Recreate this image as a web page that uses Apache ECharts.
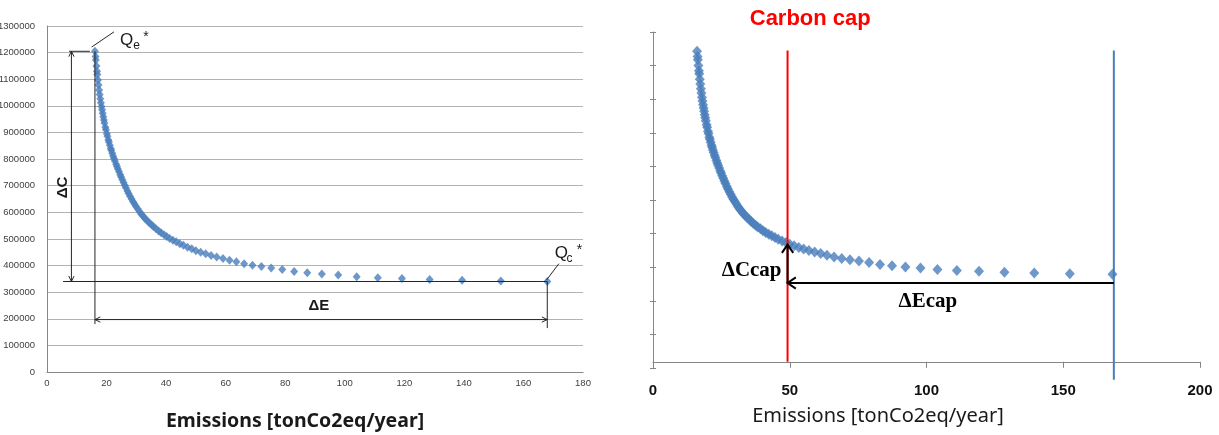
<!DOCTYPE html>
<html>
<head>
<meta charset="utf-8">
<script src="https://cdn.jsdelivr.net/npm/echarts@6/dist/echarts.min.js"></script>
<style>
  html, body { margin: 0; padding: 0; background: #ffffff; }
  #chart { width: 1219px; height: 435px; }
</style>
</head>
<body>
<div id="chart"></div>
<script>
// Abatement frontier: yearly emissions against total cost, one point per configuration
const emissions = [
  16.1, 16.3, 16.4, 16.6, 16.8, 16.9, 17.1, 17.3, 17.5, 17.7,
  17.9, 18.1, 18.3, 18.5, 18.7, 18.9, 19.1, 19.3, 19.6, 19.8,
  20.1, 20.3, 20.6, 20.8, 21.1, 21.4, 21.6, 21.9, 22.2, 22.5,
  22.8, 23.2, 23.5, 23.8, 24.2, 24.6, 24.9, 25.3, 25.7, 26.1,
  26.5, 27.0, 27.4, 27.9, 28.4, 28.9, 29.4, 29.9, 30.5, 31.1,
  31.7, 32.3, 32.9, 33.6, 34.3, 35.1, 35.8, 36.6, 37.5, 38.3,
  39.3, 40.2, 41.2, 42.3, 43.4, 44.6, 45.8, 47.2, 48.6, 50.0,
  51.6, 53.3, 55.1, 57.0, 59.1, 61.3, 63.6, 66.2, 69.0, 72.0,
  75.3, 79.0, 83.0, 87.4, 92.3, 97.8, 104.0, 111.1, 119.2, 128.5,
  139.4, 152.4, 168.0
];
const cost = [
  1205000, 1185000, 1172000, 1150000, 1130000, 1118000, 1097000, 1078000, 1060000, 1043000,
  1027000, 1012000, 998000, 985000, 972000, 959000, 947000, 936000, 920000, 910000,
  895000, 886000, 872000, 864000, 852000, 840000, 833000, 822000, 812000, 802000,
  793000, 781000, 772000, 763000, 752000, 741000, 733000, 722000, 712000, 702000,
  692000, 680000, 671000, 660000, 650000, 640000, 631000, 622000, 612000, 602000,
  593000, 585000, 577000, 569000, 561000, 553000, 546000, 538000, 530000, 523000,
  516000, 509000, 502000, 495000, 489000, 482000, 476000, 469000, 463000, 456000,
  450000, 444000, 438000, 432000, 426000, 420000, 414000, 407000, 401000, 396000,
  391000, 385000, 378000, 373000, 368000, 364000, 358000, 354000, 351000, 348000,
  345000, 342000, 340000
];

// axis ticks
const leftXTicks = [0, 20, 40, 60, 80, 100, 120, 140, 160, 180];
const leftYTicks = [0, 100000, 200000, 300000, 400000, 500000, 600000, 700000,
                    800000, 900000, 1000000, 1100000, 1200000, 1300000];
const rightXTicks = [0, 50, 100, 150, 200];
const carbonCap = 49.2;          // emission cap, tonCo2eq/year
const capCost = 306000;          // level of the ΔEcap arrow

const points = emissions.map((e, i) => [e, cost[i]]);
const firstE = emissions[0], lastE = emissions[emissions.length - 1];
const topC = cost[0], bottomC = cost[cost.length - 1];

const INK = '#1a1a1a';
const BLUE = '#4a7ebb';
const SANS = '"Liberation Sans", Arial, sans-serif';
const SERIF = '"Liberation Serif", "Times New Roman", serif';

// Annotations, all placed in data units of their own chart
const leftNotes = [
  { from: [8.2, topC], to: [8.2, bottomC], heads: ['from', 'to'] },
  { from: [7.4, topC], to: [14.4, topC] },
  { from: [5.4, bottomC], to: [lastE, bottomC] },
  { from: [firstE, topC], to: [firstE, 180000] },
  { from: [firstE, 197000], to: [lastE, 197000], heads: ['from', 'to'] },
  { from: [lastE, bottomC], to: [lastE, 165000] },
  { from: [15.0, 1221000], to: [22.5, 1278000] },
  { from: [167.7, 345000], to: [171.9, 407000] },
  { text: 'ΔC', at: [5.4, 693000], rotate: 90, font: 'bold 15px ' + SANS },
  { text: 'ΔE', at: [91.3, 247000], font: 'bold 15px ' + SANS },
  { text: 'Q', at: [24.5, 1245000], font: '17px ' + SANS, align: 'left' },
  { text: 'e', at: [29.0, 1227000], font: '12px ' + SANS, align: 'left' },
  { text: '*', at: [32.3, 1258000], font: '14px ' + SANS, align: 'left' },
  { text: 'Q', at: [170.5, 446000], font: '17px ' + SANS, align: 'left' },
  { text: 'c', at: [174.5, 426000], font: '12px ' + SANS, align: 'left' },
  { text: '*', at: [177.9, 458000], font: '14px ' + SANS, align: 'left' }
];

const rightNotes = [
  { from: [carbonCap, 0], to: [carbonCap, 1208000], color: '#ff0000', width: 2 },
  { from: [168.5, -70000], to: [168.5, 1208000], color: BLUE, width: 2 },
  { from: [carbonCap, capCost], to: [carbonCap, 455000], heads: ['to'] },
  { from: [carbonCap, capCost], to: [168.5, capCost], heads: ['from'] },
  { text: 'ΔCcap', at: [47.0, 354500], font: 'bold 21px ' + SERIF, align: 'right', color: '#000' },
  { text: 'ΔEcap', at: [100.5, 232800], font: 'bold 21px ' + SERIF, color: '#000' },
  { text: 'Carbon cap', at: [57.5, 1328800], font: 'bold 22px ' + SANS, color: '#ff0000' }
];

// open arrow head: two legs drawn back from the tip
function chevron(tip, tail, size, spread) {
  const dx = tail[0] - tip[0], dy = tail[1] - tip[1];
  const len = Math.hypot(dx, dy) || 1;
  const bx = dx / len, by = dy / len;
  const c = Math.cos(spread), s = Math.sin(spread);
  return [
    [tip[0] + size * (bx * c - by * s), tip[1] + size * (bx * s + by * c)],
    [tip[0], tip[1]],
    [tip[0] + size * (bx * c + by * s), tip[1] + size * (-bx * s + by * c)]
  ];
}

function noteSeries(list, axisIndex, lineColor, lineWidth, headSize, spread) {
  return {
    type: 'custom',
    xAxisIndex: axisIndex,
    yAxisIndex: axisIndex,
    clip: false,
    silent: true,
    z: 5,
    data: list.map(n => n.at || n.from),
    encode: { x: 0, y: 1 },
    renderItem(params, api) {
      const n = list[params.dataIndex];
      if (n.text) {
        const p = api.coord(n.at);
        return {
          type: 'text', x: p[0], y: p[1],
          rotation: n.rotate ? n.rotate * Math.PI / 180 : 0,
          style: {
            text: n.text, font: n.font, fill: n.color || INK,
            align: n.align || 'center', textAlign: n.align || 'center',
            verticalAlign: 'middle', textVerticalAlign: 'middle'
          }
        };
      }
      const a = api.coord(n.from), b = api.coord(n.to);
      const stroke = n.color || lineColor, w = n.width || lineWidth;
      const kids = [{
        type: 'line',
        shape: { x1: a[0], y1: a[1], x2: b[0], y2: b[1] },
        style: { stroke: stroke, lineWidth: w }
      }];
      (n.heads || []).forEach(end => {
        const tip = end === 'from' ? a : b, tail = end === 'from' ? b : a;
        kids.push({
          type: 'polyline',
          shape: { points: chevron(tip, tail, headSize, spread) },
          style: { stroke: stroke, lineWidth: w, fill: null }
        });
      });
      return { type: 'group', children: kids };
    }
  };
}

const chart = echarts.init(document.getElementById('chart'), null, { renderer: 'canvas' });

const hidden = { show: false };
const option = {
  animation: false,
  backgroundColor: '#ffffff',
  grid: [
    { left: 47, top: 26, width: 536, height: 346, containLabel: false, outerBoundsMode: 'none' },
    { left: 653, top: 32, width: 547, height: 336, containLabel: false, outerBoundsMode: 'none' }
  ],
  xAxis: [
    {
      gridIndex: 0, type: 'value',
      min: leftXTicks[0], max: leftXTicks[leftXTicks.length - 1], interval: leftXTicks[1] - leftXTicks[0],
      axisLine: { lineStyle: { color: '#868686', width: 1 } },
      axisTick: hidden, splitLine: hidden,
      axisLabel: { fontSize: 9.5, fontFamily: SANS, color: '#404040', margin: 6 }
    },
    {
      gridIndex: 1, type: 'value',
      min: rightXTicks[0], max: rightXTicks[rightXTicks.length - 1], interval: rightXTicks[1] - rightXTicks[0],
      axisLine: { lineStyle: { color: '#868686', width: 1 } },
      axisTick: { show: true, length: 6, lineStyle: { color: '#868686' } },
      splitLine: hidden,
      axisLabel: { fontSize: 15, fontWeight: 'bold', fontFamily: SANS, color: '#111', margin: 15 }
    }
  ],
  yAxis: [
    {
      gridIndex: 0, type: 'value',
      min: leftYTicks[0], max: leftYTicks[leftYTicks.length - 1], interval: leftYTicks[1] - leftYTicks[0],
      axisLine: { show: true, lineStyle: { color: '#868686', width: 1 } },
      axisTick: hidden,
      splitLine: { show: true, lineStyle: { color: '#b3b3b3', width: 1 } },
      axisLabel: { fontSize: 9.5, fontFamily: SANS, color: '#404040', margin: 12, formatter: v => String(v) }
    },
    {
      gridIndex: 1, type: 'value', min: -24000, max: 1280000,
      axisLine: { show: true, lineStyle: { color: '#868686', width: 1 } },
      axisTick: hidden, axisLabel: hidden, splitLine: hidden
    },
    // tick marks of the unlabelled cost axis, crossing the axis line
    {
      gridIndex: 1, type: 'value', min: 0, max: 10, interval: 1, position: 'left',
      axisLine: hidden, axisLabel: hidden, splitLine: hidden,
      axisTick: { show: true, length: 3, lineStyle: { color: '#868686' } }
    },
    {
      gridIndex: 1, type: 'value', min: 0, max: 10, interval: 1, position: 'left',
      axisLine: hidden, axisLabel: hidden, splitLine: hidden,
      axisTick: { show: true, inside: true, length: 3, lineStyle: { color: '#868686' } }
    }
  ],
  series: [
    {
      type: 'scatter', xAxisIndex: 0, yAxisIndex: 0,
      data: points, symbol: 'diamond', symbolSize: [8, 9],
      itemStyle: { color: BLUE }, z: 3
    },
    {
      type: 'scatter', xAxisIndex: 1, yAxisIndex: 1,
      data: points, symbol: 'diamond', symbolSize: [10, 11],
      itemStyle: { color: BLUE }, z: 3
    },
    noteSeries(leftNotes, 0, '#262626', 1, 6, 0.45),
    noteSeries(rightNotes, 1, '#000000', 2, 10, 0.6)
  ],
  graphic: [
    {
      type: 'text', x: 295, y: 421,
      style: {
        text: 'Emissions [tonCo2eq/year]', font: 'bold 19.5px "Noto Sans", sans-serif', fill: INK,
        align: 'center', textAlign: 'center', verticalAlign: 'middle', textVerticalAlign: 'middle'
      }
    },
    {
      type: 'text', x: 878, y: 416,
      style: {
        text: 'Emissions [tonCo2eq/year]', font: '20px "Noto Sans", sans-serif', fill: INK,
        align: 'center', textAlign: 'center', verticalAlign: 'middle', textVerticalAlign: 'middle'
      }
    }
  ]
};

chart.setOption(option);
</script>
</body>
</html>
